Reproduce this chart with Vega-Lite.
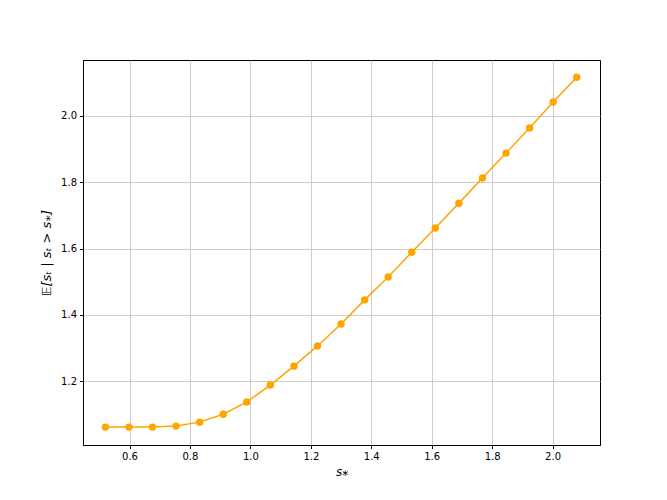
{
  "$schema": "https://vega.github.io/schema/vega-lite/v6.json",
  "width": 517,
  "height": 385,
  "autosize": {"type": "none"},
  "padding": {"left": 83, "top": 60, "right": 67, "bottom": 55},
  "background": "white",
  "config": {
    "font": "DejaVu Sans",
    "view": {"stroke": "black", "strokeWidth": 1},
    "axis": {
      "domainColor": "black",
      "domainWidth": 1,
      "tickColor": "black",
      "tickSize": 3.5,
      "labelFontSize": 10,
      "labelColor": "black",
      "labelFont": "DejaVu Sans",
      "gridColor": "#c0c0c0",
      "gridWidth": 0.8,
      "titleFontSize": 11,
      "titleFontWeight": "normal",
      "titleColor": "black",
      "titleFont": "DejaVu Sans"
    }
  },
  "data": {
    "values": [
      {"s": 0.520, "e": 1.061},
      {"s": 0.598, "e": 1.061},
      {"s": 0.676, "e": 1.061},
      {"s": 0.754, "e": 1.064},
      {"s": 0.832, "e": 1.076},
      {"s": 0.910, "e": 1.100},
      {"s": 0.988, "e": 1.137},
      {"s": 1.066, "e": 1.188},
      {"s": 1.144, "e": 1.245},
      {"s": 1.222, "e": 1.306},
      {"s": 1.300, "e": 1.372},
      {"s": 1.378, "e": 1.445},
      {"s": 1.456, "e": 1.514},
      {"s": 1.534, "e": 1.589},
      {"s": 1.612, "e": 1.662},
      {"s": 1.690, "e": 1.737},
      {"s": 1.768, "e": 1.813},
      {"s": 1.846, "e": 1.888},
      {"s": 1.924, "e": 1.964},
      {"s": 2.002, "e": 2.042},
      {"s": 2.080, "e": 2.117}
    ]
  },
  "encoding": {
    "x": {
      "field": "s",
      "type": "quantitative",
      "scale": {"domain": [0.446, 2.157], "nice": false, "zero": false},
      "axis": {"values": [0.6, 0.8, 1.0, 1.2, 1.4, 1.6, 1.8, 2.0], "format": ".1f", "title": "s⁎", "titleFontStyle": "italic", "titleFontSize": 12, "titlePadding": 5, "labelPadding": 3}
    },
    "y": {
      "field": "e",
      "type": "quantitative",
      "scale": {"domain": [1.007, 2.169], "nice": false, "zero": false},
      "axis": {"values": [1.2, 1.4, 1.6, 1.8, 2.0], "format": ".1f", "title": "𝔼[sₜ | sₜ > s⁎]", "titleFontStyle": "italic", "titleFontSize": 13, "titlePadding": 7, "labelPadding": 3}
    }
  },
  "layer": [
    {"mark": {"type": "line", "color": "#FFA500", "strokeWidth": 1.5}},
    {"mark": {"type": "circle", "color": "#FFA500", "opacity": 1, "size": 55}}
  ]
}
